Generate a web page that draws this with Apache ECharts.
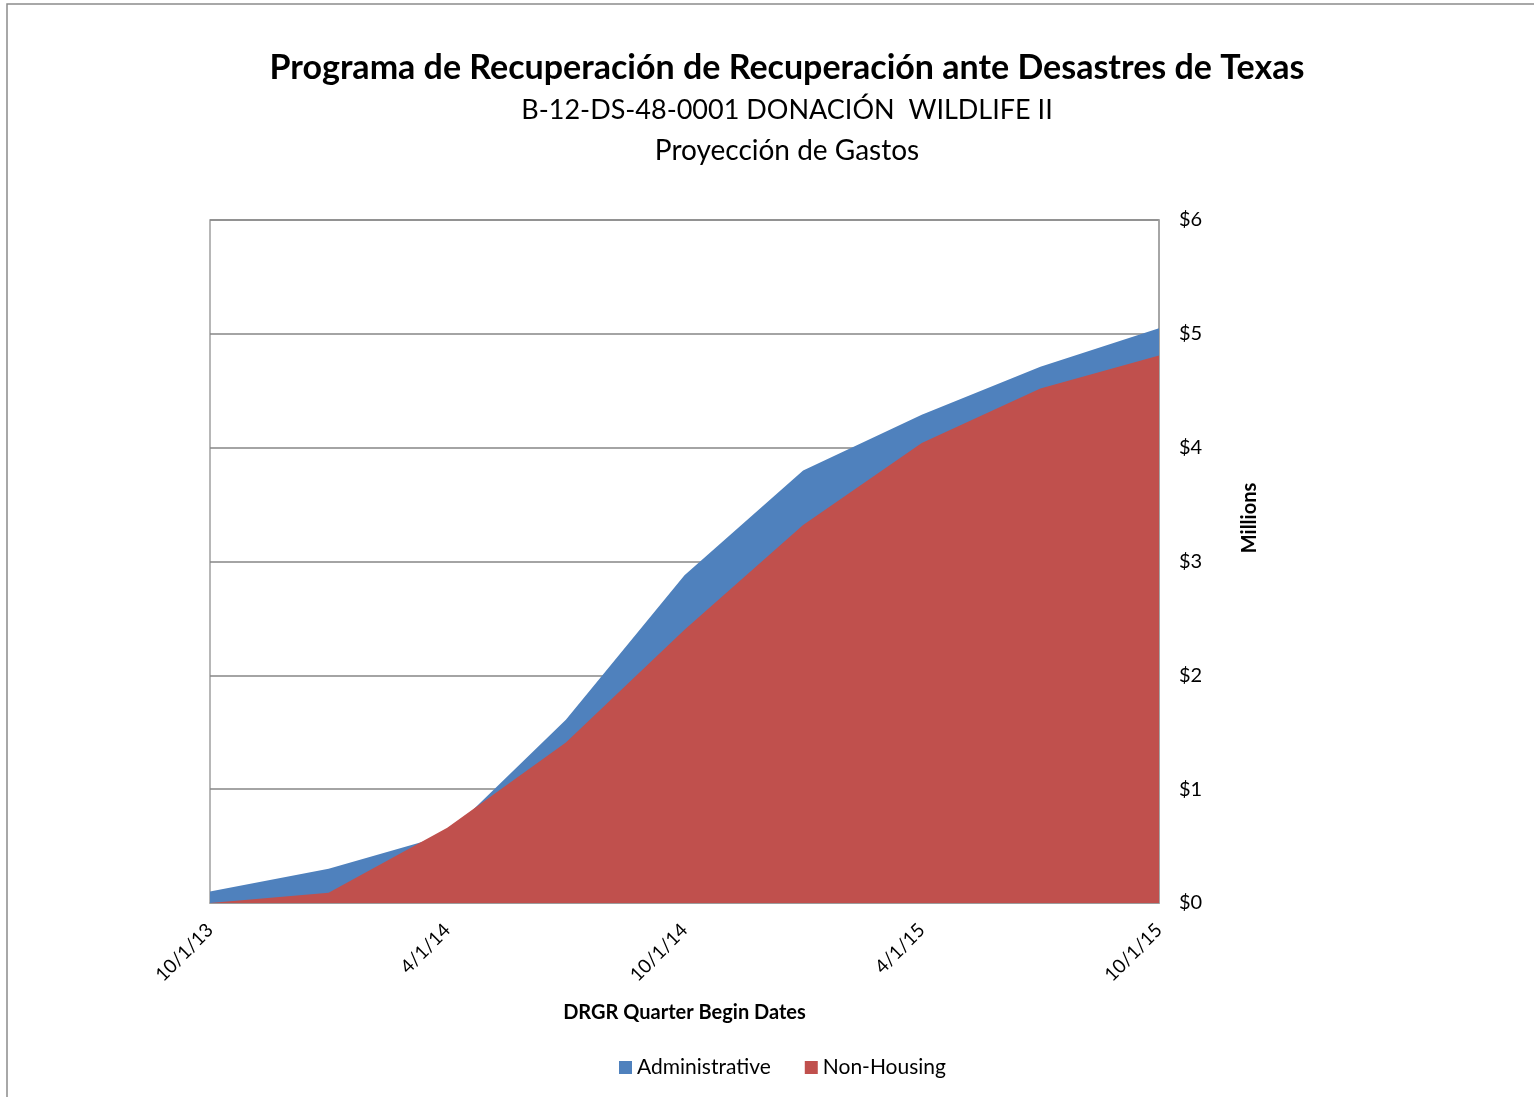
<!DOCTYPE html>
<html>
<head>
<meta charset="utf-8">
<script src="https://cdn.jsdelivr.net/npm/echarts@6/dist/echarts.min.js"></script>
<style>
html,body{margin:0;padding:0;background:#fff;}
#c{width:1534px;height:1097px;}
</style>
</head>
<body>
<div id="c"></div>
<script>
const categories = ['10/1/13','1/1/14','4/1/14','7/1/14','10/1/14','1/1/15','4/1/15','7/1/15','10/1/15'];
const administrative = [0.10, 0.30, 0.60, 1.61, 2.88, 3.80, 4.29, 4.71, 5.05];
const nonHousing = [0.00, 0.09, 0.66, 1.41, 2.40, 3.32, 4.04, 4.52, 4.81];
const yTicks = [0, 1, 2, 3, 4, 5, 6];

const FONT = 'Lato';
const chart = echarts.init(document.getElementById('c'), null, {renderer: 'canvas'});
chart.setOption({
  backgroundColor: '#fff',
  animation: false,
  textStyle: {fontFamily: FONT, color: '#000'},
  graphic: [
    {type: 'rect', shape: {x: 7, y: 4, width: 1540, height: 1100},
     style: {fill: 'none', stroke: '#8c8c8c', lineWidth: 1.5}, silent: true, z: -1},
    {type: 'text', x: 1250, y: 518, rotation: Math.PI / 2,
     style: {text: 'Millions', font: 'bold 20px Lato', fill: '#000', align: 'center', verticalAlign: 'middle'}}
  ],
  title: [
    {text: 'Programa de Recuperación de Recuperación ante Desastres de Texas', left: 782, top: 46, textAlign: 'center',
     textStyle: {fontFamily: FONT, fontSize: 34, fontWeight: 'bold', color: '#000'}},
    {text: 'B-12-DS-48-0001 DONACIÓN  WILDLIFE II', left: 782, top: 92, textAlign: 'center',
     textStyle: {fontFamily: FONT, fontSize: 27, fontWeight: 'normal', color: '#000'}},
    {text: 'Proyección de Gastos', left: 782, top: 132, textAlign: 'center',
     textStyle: {fontFamily: FONT, fontSize: 28, fontWeight: 'normal', color: '#000'}}
  ],
  legend: {
    bottom: 14, left: 614, itemWidth: 13, itemHeight: 13, itemGap: 34,
    icon: 'rect',
    textStyle: {fontFamily: FONT, fontSize: 21, color: '#000'},
    data: ['Administrative', 'Non-Housing']
  },
  grid: {left: 210, right: 375, top: 220, bottom: 194, show: true, borderColor: '#a0a0a0', borderWidth: 1.5},
  xAxis: {
    type: 'category', data: categories, boundaryGap: false,
    name: 'DRGR Quarter Begin Dates', nameLocation: 'middle', nameGap: 100,
    nameTextStyle: {fontFamily: FONT, fontSize: 20, fontWeight: 'bold', color: '#000'},
    axisLine: {show: true, lineStyle: {color: '#a0a0a0', width: 1.5}},
    axisTick: {show: false},
    axisLabel: {interval: 1, rotate: 45, fontFamily: FONT, fontSize: 19, color: '#000', margin: 24}
  },
  yAxis: {
    type: 'value', position: 'right', min: 0, max: 6, interval: 1,
    axisLine: {show: true, lineStyle: {color: '#a0a0a0', width: 1.5}},
    axisTick: {show: false},
    splitLine: {show: true, lineStyle: {color: '#868686', width: 1.5}},
    axisLabel: {fontFamily: FONT, fontSize: 20, color: '#000', margin: 20,
      formatter: v => yTicks.includes(v) ? '$' + v : ''}
  },
  series: [
    {name: 'Administrative', type: 'line', data: administrative, symbol: 'none',
     lineStyle: {width: 0}, itemStyle: {color: '#4F81BD'}, areaStyle: {color: '#4F81BD', opacity: 1}, z: 2},
    {name: 'Non-Housing', type: 'line', data: nonHousing, symbol: 'none',
     lineStyle: {width: 0}, itemStyle: {color: '#C0504D'}, areaStyle: {color: '#C0504D', opacity: 1}, z: 3}
  ]
});
</script>
</body>
</html>
